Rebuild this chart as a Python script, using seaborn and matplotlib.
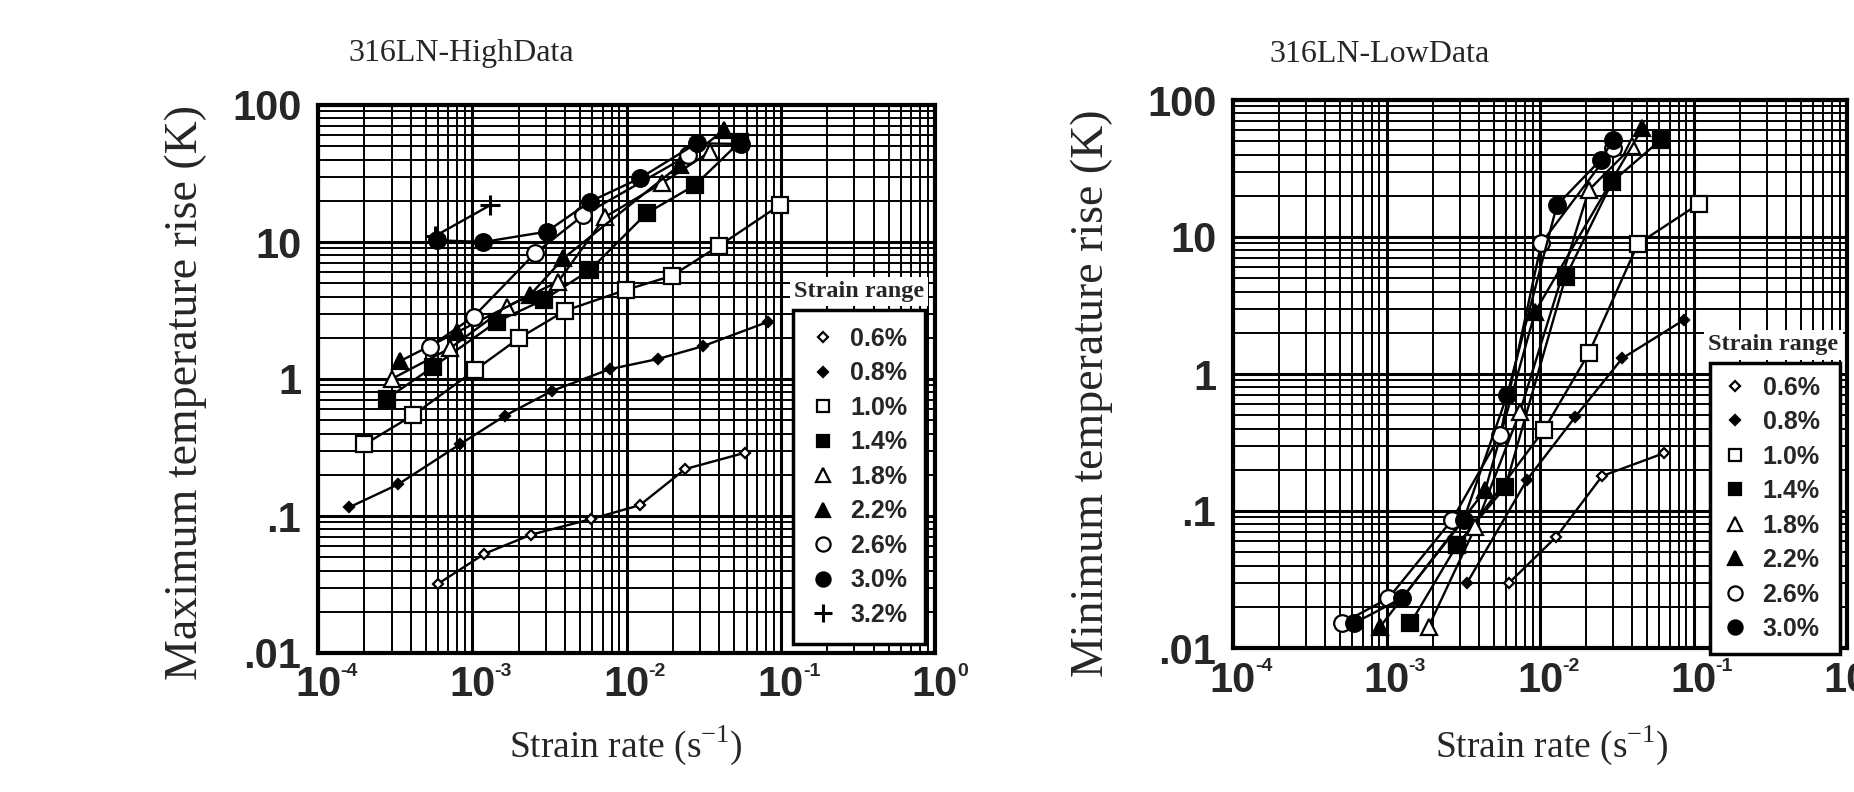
import numpy as np
import pandas as pd
import matplotlib
matplotlib.use("Agg")
import matplotlib.pyplot as plt
from matplotlib.lines import Line2D
from matplotlib.ticker import LogLocator, NullFormatter
import seaborn as sns

# ---------------- data ----------------
labels_all = ["0.6%", "0.8%", "1.0%", "1.4%", "1.8%", "2.2%", "2.6%", "3.0%", "3.2%"]

# High data (maximum temperature rise)
hi_x06 = [6.0e-4, 1.2e-3, 2.4e-3, 5.9e-3, 1.22e-2, 2.4e-2, 5.9e-2]
hi_y06 = [0.032, 0.053, 0.073, 0.095, 0.12, 0.22, 0.29]
hi_x08 = [1.6e-4, 3.3e-4, 8.3e-4, 1.63e-3, 3.3e-3, 7.8e-3, 1.6e-2, 3.15e-2, 8.3e-2]
hi_y08 = [0.116, 0.17, 0.333, 0.54, 0.82, 1.18, 1.40, 1.74, 2.62]
hi_x10 = [2.0e-4, 4.15e-4, 1.04e-3, 2.0e-3, 4.0e-3, 9.9e-3, 1.96e-2, 4.0e-2, 9.95e-2]
hi_y10 = [0.333, 0.546, 1.16, 1.98, 3.15, 4.47, 5.65, 9.4, 18.7]
hi_x14 = [2.8e-4, 5.6e-4, 1.44e-3, 2.9e-3, 5.8e-3, 1.35e-2, 2.78e-2, 5.45e-2]
hi_y14 = [0.72, 1.23, 2.62, 3.78, 6.25, 16.2, 26.0, 54.0]
hi_x18 = [3.0e-4, 7.2e-4, 1.67e-3, 3.6e-3, 7.3e-3, 1.69e-2, 3.48e-2]
hi_y18 = [1.0, 1.68, 3.37, 5.13, 15.3, 26.8, 45.6]
hi_x22 = [3.4e-4, 8.0e-4, 2.37e-3, 3.9e-3, 2.22e-2, 4.3e-2]
hi_y22 = [1.35, 2.2, 4.1, 7.6, 36.5, 66.0]
hi_x26 = [5.3e-4, 1.02e-3, 2.55e-3, 5.25e-3, 2.52e-2]
hi_y26 = [1.72, 2.85, 8.26, 15.7, 43.0]
hi_x30 = [5.9e-4, 1.18e-3, 3.04e-3, 5.8e-3, 1.22e-2, 2.85e-2, 5.5e-2]
hi_y30 = [10.3, 10.0, 11.9, 19.7, 29.2, 52.5, 52.0]
hi_x32 = [5.7e-4, 1.3e-3]
hi_y32 = [11.0, 18.5]

# Low data (minimum temperature rise)
lo_x06 = [6.25e-3, 1.28e-2, 2.54e-2, 6.4e-2]
lo_y06 = [0.0297, 0.065, 0.18, 0.264]
lo_x08 = [3.34e-3, 8.2e-3, 1.7e-2, 3.43e-2, 8.65e-2]
lo_y08 = [0.0297, 0.168, 0.488, 1.30, 2.48]
lo_x10 = [2.9e-3, 1.06e-2, 2.08e-2, 4.34e-2, 1.08e-1]
lo_y10 = [0.056, 0.39, 1.42, 8.9, 17.4]
lo_x14 = [1.43e-3, 2.88e-3, 5.95e-3, 1.47e-2, 2.96e-2, 6.1e-2]
lo_y14 = [0.0151, 0.0565, 0.15, 5.13, 25.4, 51.0]
lo_x18 = [1.88e-3, 3.8e-3, 7.4e-3, 2.08e-2, 4.0e-2]
lo_y18 = [0.0143, 0.0767, 0.53, 22.0, 46.0]
lo_x22 = [9.1e-4, 4.4e-3, 9.3e-3, 4.63e-2]
lo_y22 = [0.0143, 0.142, 2.85, 62.0]
lo_x26 = [5.1e-4, 1.03e-3, 2.67e-3, 5.5e-3, 1.02e-2, 3.0e-2]
lo_y26 = [0.0151, 0.0231, 0.086, 0.359, 9.0, 45.0]
lo_x30 = [6.1e-4, 1.26e-3, 3.18e-3, 6.1e-3, 1.29e-2, 2.48e-2, 3.0e-2]
lo_y30 = [0.0151, 0.0231, 0.086, 0.70, 17.1, 36.5, 51.0]

x_ticks = [1e-4, 1e-3, 1e-2, 1e-1, 1e0]
x_tick_base = ["10", "10", "10", "10", "10"]
x_tick_exp = ["-4", "-3", "-2", "-1", "0"]
y_ticks = [0.01, 0.1, 1, 10, 100]
y_tick_labels = [".01", ".1", "1", "10", "100"]

high_series = {
    "0.6%": (hi_x06, hi_y06), "0.8%": (hi_x08, hi_y08), "1.0%": (hi_x10, hi_y10),
    "1.4%": (hi_x14, hi_y14), "1.8%": (hi_x18, hi_y18), "2.2%": (hi_x22, hi_y22),
    "2.6%": (hi_x26, hi_y26), "3.0%": (hi_x30, hi_y30), "3.2%": (hi_x32, hi_y32),
}
low_series = {
    "0.6%": (lo_x06, lo_y06), "0.8%": (lo_x08, lo_y08), "1.0%": (lo_x10, lo_y10),
    "1.4%": (lo_x14, lo_y14), "1.8%": (lo_x18, lo_y18), "2.2%": (lo_x22, lo_y22),
    "2.6%": (lo_x26, lo_y26), "3.0%": (lo_x30, lo_y30),
}

# marker styles: (marker, facecolor, size)
styles = {
    "0.6%": ("D", "white", 5),
    "0.8%": ("D", "black", 5),
    "1.0%": ("s", "white", 11),
    "1.4%": ("s", "black", 11),
    "1.8%": ("^", "white", 12),
    "2.2%": ("^", "black", 12),
    "2.6%": ("o", "white", 12),
    "3.0%": ("o", "black", 12),
    "3.2%": ("+", "black", 15),
}

# ---------------- figure ----------------
sns.set_theme(style="white")
plt.rcParams["font.family"] = ["Liberation Sans", "DejaVu Sans"]

fig = plt.figure(figsize=(18.54, 7.92), dpi=100)
W, H = 1854.0, 792.0


def add_axes_px(x0, y0, x1, y1):
    return fig.add_axes([x0 / W, 1 - y1 / H, (x1 - x0) / W, (y1 - y0) / H])


ax_hi = add_axes_px(318, 105, 935, 653)
ax_lo = add_axes_px(1233, 100, 1847, 648)

serif = ["Liberation Serif", "DejaVu Serif"]
sans = ["Liberation Sans", "DejaVu Sans"]


def draw_panel(ax, series):
    for lab, (xs, ys) in series.items():
        m, fc, ms = styles[lab]
        df = pd.DataFrame({"x": xs, "y": ys})
        sns.lineplot(data=df, x="x", y="y", ax=ax, color="black", lw=1.7,
                     marker=m, markersize=ms, markerfacecolor=fc,
                     markeredgecolor="black", markeredgewidth=1.6 if m != "+" else 2.2,
                     sort=False, estimator=None, legend=False, zorder=3)
    ax.set_xscale("log")
    ax.set_yscale("log")
    ax.set_xlim(1e-4, 1)
    ax.set_ylim(0.01, 100)
    ax.xaxis.set_minor_locator(LogLocator(base=10, subs=np.arange(2, 10), numticks=20))
    ax.yaxis.set_minor_locator(LogLocator(base=10, subs=np.arange(2, 10), numticks=20))
    ax.xaxis.set_minor_formatter(NullFormatter())
    ax.yaxis.set_minor_formatter(NullFormatter())
    ax.set_xticks(x_ticks)
    ax.set_xticklabels(x_tick_base)
    ax.set_yticks(y_ticks)
    ax.set_yticklabels(y_tick_labels)
    ax.grid(True, which="major", color="black", lw=2.2)
    ax.grid(True, which="minor", color="black", lw=1.4)
    ax.set_axisbelow(True)
    ax.tick_params(axis="both", which="both", length=0)
    ax.tick_params(axis="x", pad=9, labelsize=30)
    ax.tick_params(axis="y", pad=12, labelsize=30)
    for t in ax.get_xticklabels() + ax.get_yticklabels():
        t.set_fontweight("bold")
        t.set_family(sans)
    # superscript exponents of the x tick labels
    for xv, ex in zip(x_ticks, x_tick_exp):
        ax.annotate(ex, xy=(xv, 0), xycoords=("data", "axes fraction"),
                    xytext=(16, -7), textcoords="offset points",
                    ha="left", va="top", family=sans, weight="bold", size=14,
                    annotation_clip=False)
    for s in ax.spines.values():
        s.set_linewidth(3)
        s.set_color("black")
    ax.set_xlabel("")
    ax.set_ylabel("")
    ax.set_facecolor("white")


draw_panel(ax_hi, high_series)
draw_panel(ax_lo, low_series)


def add_legend(ax, labs, frame_box, title_xy, bpad):
    handles = []
    for lab in labs:
        m, fc, ms = styles[lab]
        handles.append(Line2D([], [], linestyle="none", marker=m,
                              markersize=(ms * 0.85 if ms > 6 else ms),
                              markerfacecolor=fc, markeredgecolor="black",
                              markeredgewidth=1.6 if m != "+" else 2.2))
    leg = ax.legend(handles, labs, loc="upper left", bbox_to_anchor=frame_box,
                    mode="expand", frameon=True, fancybox=False,
                    prop={"family": "Liberation Sans", "weight": "bold", "size": 18},
                    labelspacing=0.42, handlelength=1.0, handletextpad=0.6,
                    borderpad=bpad, borderaxespad=0)
    fr = leg.get_frame()
    fr.set_edgecolor("black")
    fr.set_linewidth(2.5)
    fr.set_facecolor("white")
    fr.set_alpha(1)
    leg.set_zorder(10)
    ax.text(title_xy[0], title_xy[1], "Strain range", transform=ax.transAxes,
            ha="center", va="center", family=serif, weight="bold", size=17.5,
            zorder=11, bbox=dict(facecolor="white", edgecolor="none", pad=3))


add_legend(ax_hi, labels_all, (0.770, 0.626, 0.214, 0.0), (0.877, 0.660), 0.68)
add_legend(ax_lo, labels_all[:8], (0.777, 0.520, 0.212, 0.0), (0.880, 0.553), 0.5)

# titles and axis labels
fig.text(461 / W, 1 - 54 / H, "316LN-HighData", ha="center", va="center",
         family=serif, size=23)
fig.text(1380 / W, 1 - 54 / H, "316LN-LowData", ha="center", va="center",
         family=serif, size=23)
fig.text(186 / W, 1 - 393 / H, "Maximum temperature rise (K)", rotation=90,
         ha="center", va="center", family=serif, size=33)
fig.text(1092 / W, 1 - 393 / H, "Minimum temperature rise (K)", rotation=90,
         ha="center", va="center", family=serif, size=33)
fig.text(626 / W, 1 - 745 / H, r"Strain rate (s$^{\mathregular{-1}}$)",
         ha="center", va="center", family=serif, size=27)
fig.text(1552 / W, 1 - 745 / H, r"Strain rate (s$^{\mathregular{-1}}$)",
         ha="center", va="center", family=serif, size=27)

fig.savefig("out.png", dpi=100, facecolor="white")
